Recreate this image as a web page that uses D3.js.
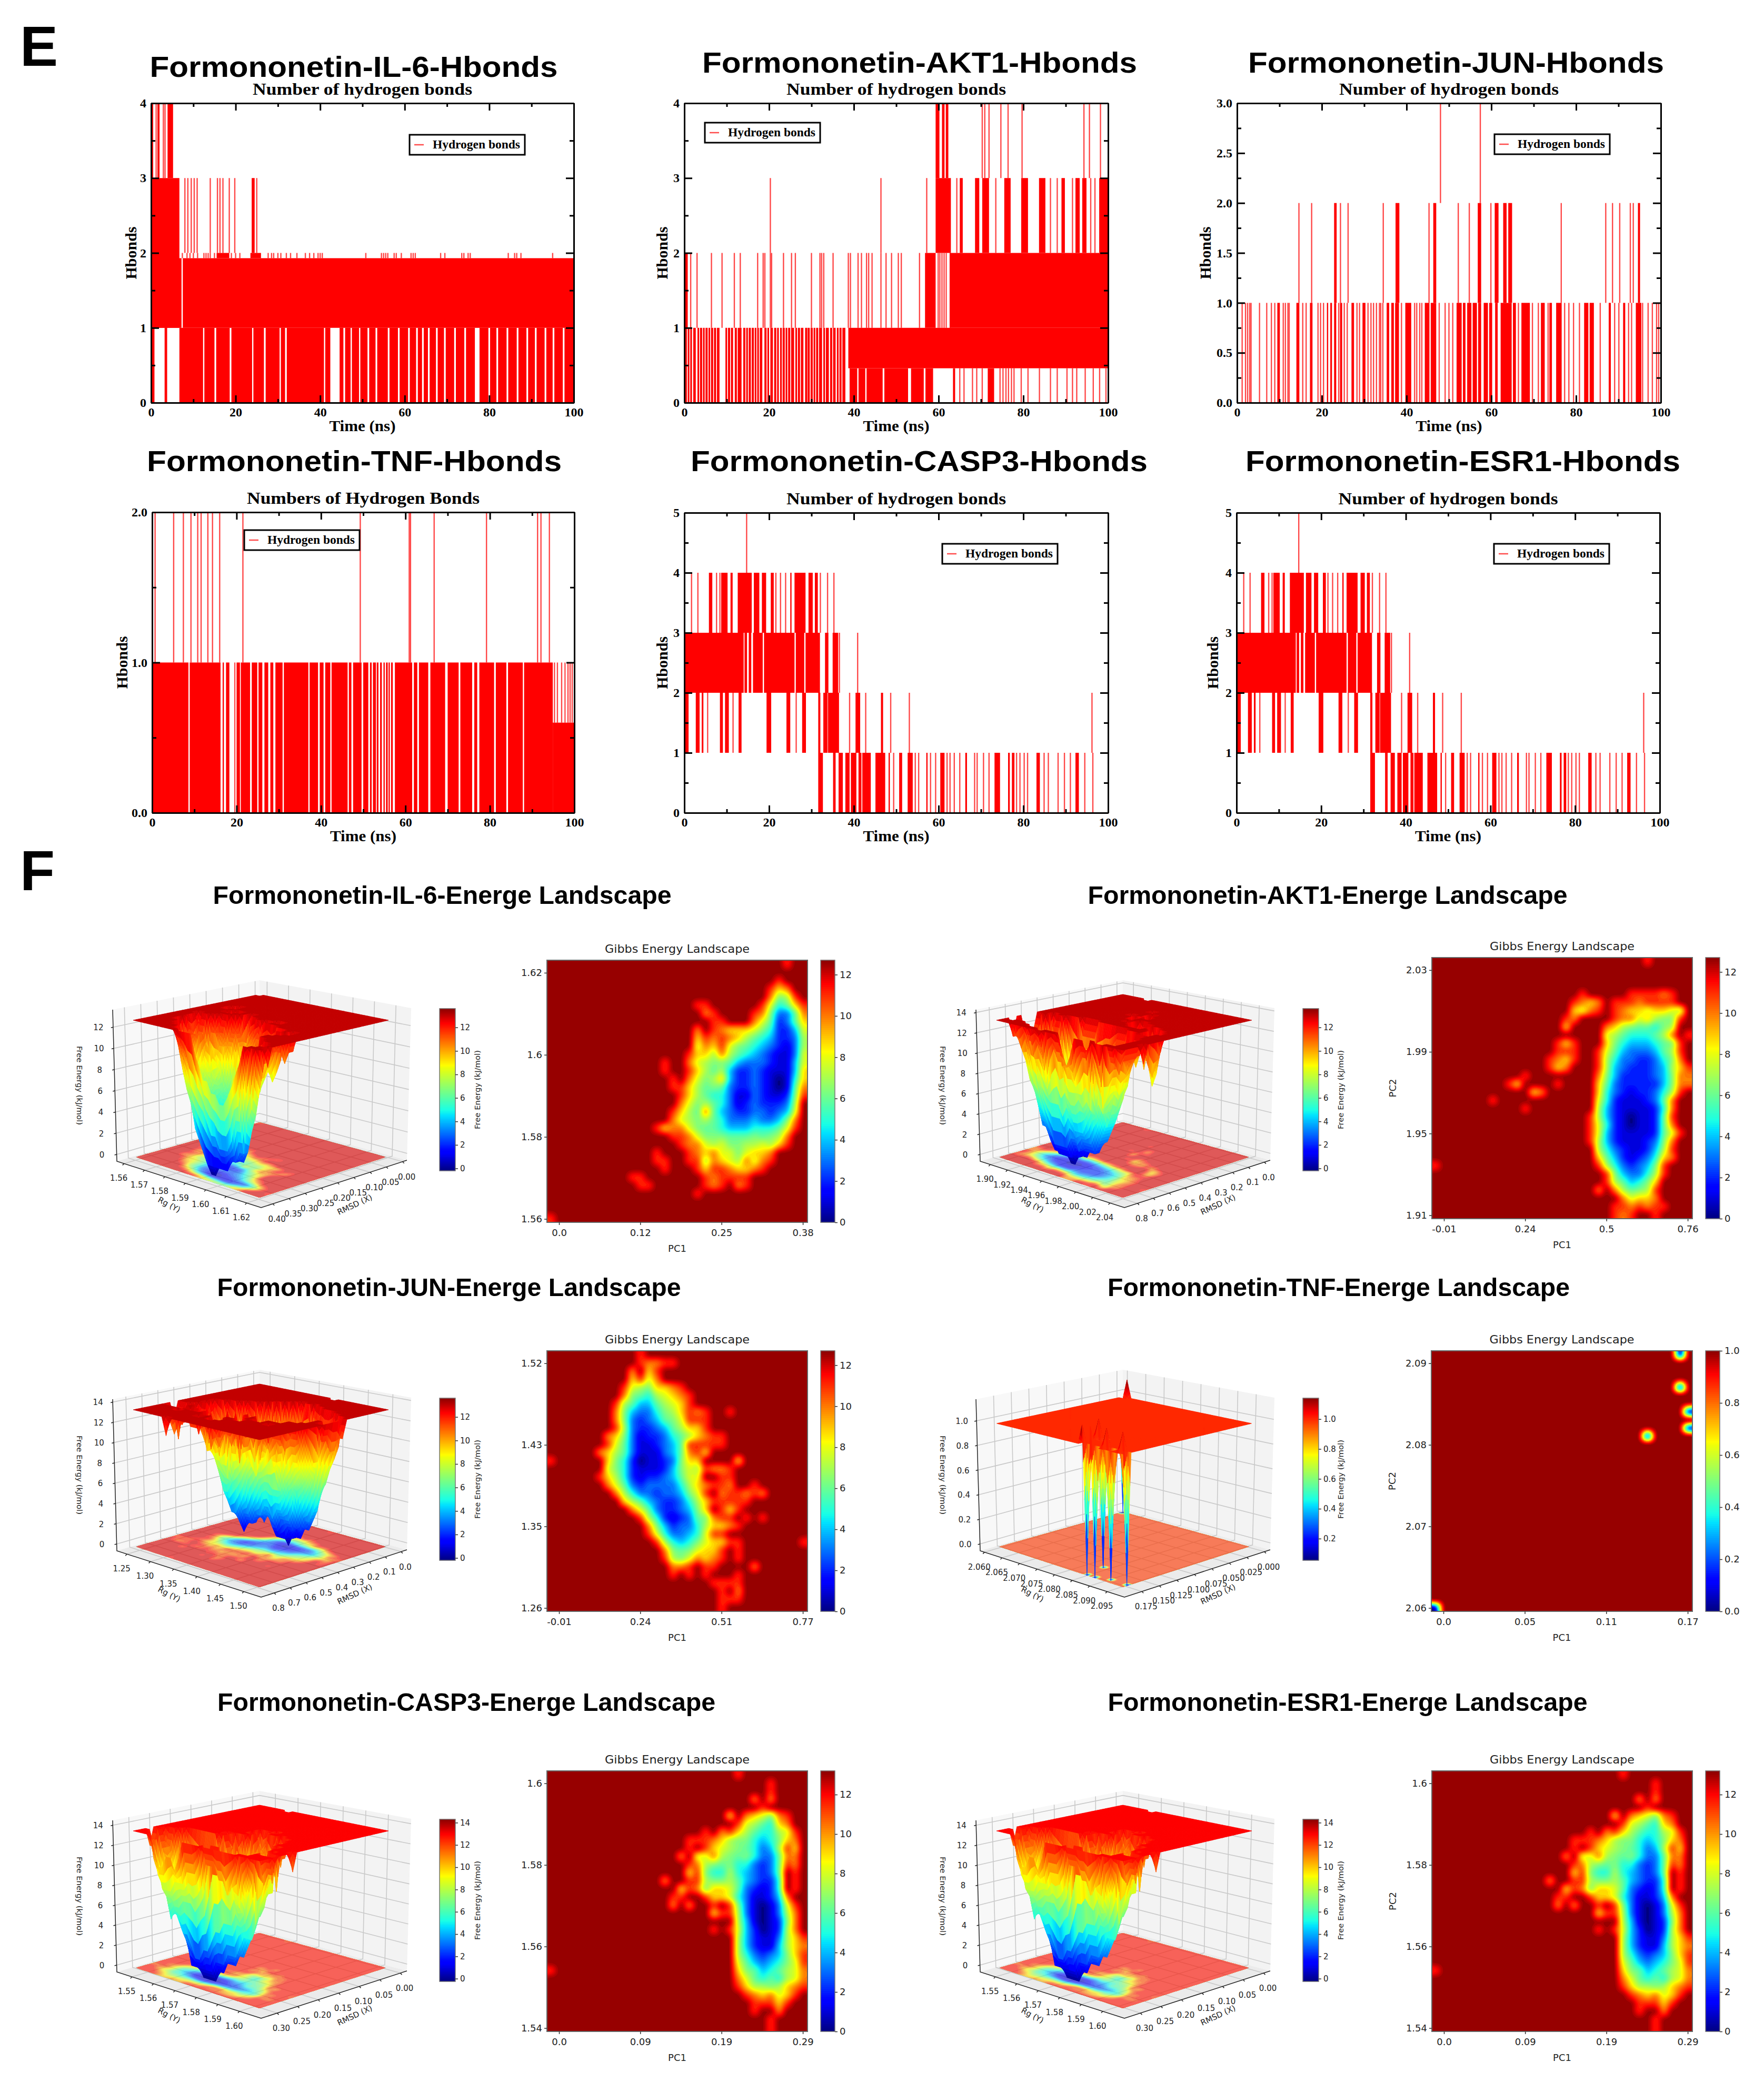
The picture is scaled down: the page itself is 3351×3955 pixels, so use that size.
<!DOCTYPE html>
<html><head><meta charset="utf-8">
<script src="https://cdn.jsdelivr.net/npm/d3@7"></script>
<style>html,body{margin:0;padding:0;background:#fff}svg{display:block}</style>
</head><body><svg id="fig" width="3351" height="3955" viewBox="0 0 3351 3955"></svg>
<script>
// ---------- hydrogen bond traces: [low, high, [time | [timeFrom,timeTo] ...]] in ns / count
const il6Runs=[
[0,1,[[0,.8],[3.2,3.8],[6.7,12.3],[12.6,15],[15.4,18.6],[19,23.9],[24.2,26.7],[27.1,30.4],[30.7,31.7],[32.1,40.9],[41.2,42.4],[44.6,45.5],[45.9,47.2],[47.5,49.2],[49.5,51.2],[51.6,53.1],[53.5,56],[56.4,58.4],[58.8,60.8],[61.2,62.7],[63.1,64.1],[64.5,65.5],[65.9,67.4],[67.8,69.3],[69.7,71.7],[72.1,74.1],[74.5,76.6],[77.7,79.8],[80.2,81.7],[82.1,84.1],[84.5,86.5],[86.9,88.8],[89.2,90.8],[91.2,93.1],[93.5,95],[95.4,97.4],[97.8,100]]],
[1,1.93,[[0,7.2],[7.5,100]]],
[1,3,[[0,6.7]]],
[3,4,[[.2,.5],1.2,[1.5,2],2.9,3.3,[3.9,5.2]]],
[2,3,[8,8.7,9.5,10.2,10.9,14,15.7,16.3,17,18.5,19.8,[23.8,24.5],25]],
[1.93,2,[7.4,8.5,9.2,10,11,12.5,13,13.5,14,15,[15.5,18.5],19,20,21,[23.5,26],27.7,28.5,29,30,30.7,32,33,34.5,36.5,37.5,38.5,39.5,40,40.5,50.8,54.5,55,55.5,56,57.5,58,59.2,61.5,62,62.5,68.5,69.5,73.5,74,75,75.5,84.5,86,86.5,87.5,95]]];
const akt1Runs=[
[0,1,[[.1,.6],[.8,1.2],[1.4,1.8],[2.1,2.7],[3.1,3.5],[3.7,4.2],[4.4,4.8],[5,5.5],[5.7,6.1],[6.3,6.8],[7,7.5],[7.7,8.3],[9.7,10.1],[10.3,10.8],[11,11.5],[11.9,12.4],[12.6,13.5],[13.9,14.4],[14.6,15],[15.2,15.7],[15.9,16.4],[16.6,17],[17.2,17.6],[17.8,18.4],[18.9,19.4],[19.6,20],[20.3,20.9],[21.2,21.7],[21.9,22.3],[22.6,23],[23.2,23.7],[23.9,24.3],[24.5,25],[25.2,25.9],[26.2,26.6],[26.8,27.3],[27.5,28.1],[28.5,29],[29.1,29.6],[29.8,30.3],[30.5,30.9],[31.1,31.6],[31.8,32.5],[32.8,33.2],[33.4,34.1],[34.4,34.9],[35.1,35.7],[36,36.4],[36.6,37.1],[37.3,38]]],
[.46,1,[[38.7,100]]],
[0,.46,[[39,40.8],[41.1,42.7],[43,46.8],[47.2,52.8],[53.5,56.5],[56.9,58.7],[63.4,63.9],65,66,68,69,70.3,[71.6,73.1],74.5,75.2,75.9,76.5,77.2,77.8,79.5,81.1,83.8,86.4,88,90.3,91.6,92.6,94.6,96.5,98,99.5]],
[1,2,[[0,.8],1.5,3,6.4,8.9,11.8,13.2,17.3,18.6,19,20.3,20.6,23.4,25.3,26.2,30,32,32.4,32.9,35.1,38.7,39.2,41,41.8,43,43.5,44.3,46.4,47.6,48.9,50.5,51.2,55.5,[56.8,59.3],59.9,60.3,60.8,61.3,61.8,[62.6,100]]],
[2,3,[20.3,46.4,57.2,[59.3,62.9],64.3,[65,65.7],[68.6,69.6],[70.3,71.9],73.5,[75.5,77],[79.5,81.1],[83.7,85.2],86.4,88,[89,89.8],91.6,[92.3,93.3],[93.9,94.9],95.9,96.9,[97.9,100]]],
[3,4,[[59.3,60.2],[60.8,61.4],[61.7,62.3],70.3,70.9,71.9,74.7,76.4,79.7,94.3,95.6,98.2]]];
const junRuns=[
[0,1,[1.2,2,2.5,3,3.3,5.3,7,8.1,8.9,[9.5,10.1],10.9,11.4,12,12.3,[14,14.7],15.5,16.3,[17.2,17.8],19.1,19.7,20.4,[21.2,21.5],[22,22.4],[22.9,23.4],24,[24.3,24.8],25.3,26,[27,27.6],28.3,28.9,[29.6,30.3],30.9,31.6,32.2,32.9,33.6,33.9,34.4,[35.3,35.9],[36.4,37],[37.3,38.2],38.8,[39.7,41.1],41.9,42.4,43.1,43.6,[44.3,45.4],[45.7,47],47.7,49.1,50,50.9,[51.8,53],[53.3,53.9],[54.3,55.3],[55.6,56.6],[56.9,57.6],[58.2,59.2],[59.5,60.2],[60.9,61.5],[62.2,64.8],[65.1,65.8],66.4,[67.1,69.1],69.7,71.1,[71.7,72.6],73.4,[73.7,74.3],[75.3,76.6],77.3,78.3,79.4,80.8,[81.9,82.9],[83.2,84.2],85.7,[87.7,88.2],89.1,90.1,[91.1,91.6],92.4,93.1,[94.1,95.4],95.7,97,98,99,99.5]],
[1,2,[14.6,17.6,[22.9,23.5],24.4,26.2,34.5,[37.4,38.3],45.3,[46.3,47],52.2,54.8,[56.8,57.6],59.9,[60.8,61.7],[62.8,63.6],[64,64.9],76.5,87,88.6,90.3,92.8,93.5,[94.6,95.1]]],
[2,3,[48,57.4]]];
const tnfRuns=[
[0,1,[[.2,8.6],[8.9,16.2],[16.7,17],[17.5,18.3],[19.5,19.7],[20,20.8],[21,23.2],[23.6,24.9],[25.2,26.1],[26.6,27.5],[28,28.7],[29.2,30.9],[31.2,37],[37.3,39.3],[39.7,40.6],[41,42.2],[42.5,46.3],[46.6,47.2],[47.6,49.6],[50,51.2],[51.6,52],[52.3,53],[53.2,53.6],[54,54.4],[54.8,55.1],[55.4,55.8],[56,56.3],[56.6,57],[57.5,61.6],[62,62.8],[63.2,65.4],[65.9,69.4],[70,72.6],[73,75.8],[76.3,77],[77.5,81],[81.4,83.9],[84.3,87.8],[88.1,94.9]]],
[0,.6,[[94.9,100]]],
[.6,1,[95.3,96,97,[97.7,97.9],98.5,99,99.5]],
[1,2,[.7,5.1,7.4,9.2,10.8,11.6,13.2,14.3,16,21.5,49.3,60.9,61.2,66.8,79.2,91.3,92.1,94.1]]];
const casp3Runs=[
[4,5,[14.7]],
[3,4,[1.7,3.2,[5.8,6.6],7.6,8.4,[8.7,10.2],[10.9,11.4],[12.6,15.9],[16.4,17.7],[18.3,19.3],[20.4,21.1],21.6,22.7,23.9,[25,25.3],[26,28.6],[29.3,30.3],[30.8,31.5],32.1,33.8,35.3]],
[2,3,[[.2,14],[14.2,14.8],[15.2,15.8],[16.2,18.5],[18.8,26],[26.3,28.3],[28.6,32],[33.2,34],[35,36.3],36.6,40.9]],
[1,2,[[.2,1],[2.7,3.6],[4.1,4.5],5.5,[8.4,9.1],[9.6,10.5],11.5,[12.8,13.5],[19.4,20.5],[24.1,25],26.4,[27.8,28.7],[31.6,32.1],[32.8,33.8],[33.9,36.5],39,[40.4,41.5],42.8,[46.4,46.9],48.7,53.1,96.2]],
[0,1,[[31.6,32.7],[35.1,35.7],[36.4,37.4],[38,39],[39.3,40.6],[41.1,41.8],[42,44],[45.1,47.4],[48.2,48.5],49.4,[50.7,51.4],[52.7,53.9],54.5,55.3,[57.1,57.4],58.1,59.3,[60.4,61.4],62,62.7,63.7,65,[66.3,66.7],68.5,69.1,70.6,71.9,[73.2,74.5],[76.4,76.8],[77.3,77.9],78.4,79.2,80.2,81,[83.1,83.9],84.9,85.9,88.2,89.7,91.1,[92.3,93.1],94.5,96.4]]];
const esr1Runs=casp3Runs;

const hbTitles=["Formononetin-IL-6-Hbonds","Formononetin-AKT1-Hbonds","Formononetin-JUN-Hbonds","Formononetin-TNF-Hbonds","Formononetin-CASP3-Hbonds","Formononetin-ESR1-Hbonds"];
const hbSubtitles=["Number of hydrogen bonds","Number of hydrogen bonds","Number of hydrogen bonds","Numbers of Hydrogen Bonds","Number of hydrogen bonds","Number of hydrogen bonds"];
const hbYMax=[4,4,3,2,5,5];
const hbYMajorStep=[1,1,.5,1,1,1];
const timeMajor=[0,20,40,60,80,100];
const timeMinor=[10,30,50,70,90];

// ---------- free energy grids (32x32, top row = highest PC2), each hex digit = energy level
const il6Grid=[
"dddd dddd dddd dddd dddd dddd dddd dcdd","",
"dddd dddd dddd dddd dddd dddd dddd cddd",
"dddd dddd dddd dddd dddd dddd dddc abdd",
"dddd dddd dddd dddd dddd dddd dddb 78cd",
"dddd dddd dddd dddd ddcc dddd ddc9 56ac",
"dddd dddd dddd dddd dddb cddd dcb7 336b",
"dddd dddd dddd dddd dddd ccdd db96 236a",
"dddd dddd dddd dddd ddbd cbaa a975 2249",
"dddd dddd dddd dddd ddac bcba 8654 2238",
"dddd dddd dddd dddd dd9b ac97 6543 2138",
"dddd dddd dddd dddd dcaa 8b86 5432 1139",
"dddd dddd dddd ddcd db98 7764 3332 1149",
"dddd dddd dddd ddcd dca8 6842 2321 114a",
"dddd dddd dddd dddc db97 8a42 2321 015a",
"dddd dddd dddd dddc ca86 7632 2321 016b",
"dddd dddd dddd dddd ca86 5531 1321 127c",
"dddd dddd dddd dddd b978 6531 2322 238d",
"dddd dddd dddd dddc a86b 6432 2332 349d",
"dddd dddd dddd dddb 9878 6533 3433 47bd",
"dddd dddd dddd dcab b976 6544 4555 69cd",
"dddd dddd dddd dddc cb97 7766 6767 8bdd",
"dddd dddd dddd dddd cbb9 8977 8898 acdd",
"dddd dddd dddd dcdd dcba b997 9aab dddd",
"dddd dddd dddd dccd dcc8 ba98 b9bc dddd",
"dddd dddd dddd ddcd ddca ccba abcd dddd",
"dddd dddd ddcc dddd dddc bccc cddd dddd",
"dddd dddd dddc cddd dddc bcdb cddd dddd",
"dddd dddd dddd dddd ddcd dddd dddd dddd","","",
"cddd"];
const akt1Grid=[
"dddd dddd dddd dddd dddd dddd ddcd dddd","","","",
"dddd dddd dddd dddd ddcd dddd cccc bcdd",
"dddd dddd dddd dddd dcba bdcc cbcc ccdd",
"dddd dddd dddd dddd da9b cdcb aa9a a98d",
"dddd dddd dddd dddd cbdd ddcb b9a8 77cd",
"dddd dddd dddd dddd addd dba8 7665 78dd",
"dddd dddd dddd dddd dddd d986 5556 8bdc",
"dddd dddd dddd dddc acdd da75 4445 67cd",
"dddd dddd dddd dddc ccdd c964 3334 68cd",
"dddd dddd dddd ddcb acdd c853 3223 57bd",
"dddd dddd dddd ddca bddd c843 2223 48ac",
"dddd dddd dddc dddd dddd b742 2223 47bb",
"dddd dddd dcad dddc dddd a632 2222 47bb",
"dddd dddd dddd abdd dddd a532 1223 58cd",
"dddd dddc dddd dddd dddd 9521 1123 6bdd",
"dddd dddd dddc dddd dddd 8421 1112 5bdd",
"dddd dddd dddd dddd dddc 8421 0112 6cdd",
"dddd dddd dddd dddd dddc 9521 0112 6bdd",
"dddd dddd dddd dddd dddc 9421 1112 69cd",
"dddd dddd dddd dddd dddc 8421 1123 7bdd",
"dddd dddd dddd dddd dddd 8532 1124 8cdd",
"dddd dddd dddd dddd dddd a642 1235 abdd",
"cddd dddd dddd dddd dddd c853 2347 cddd",
"dddd dddd dddd dddd dddd dc74 3358 cddd",
"dddd dddd dddd dddd dddd dc86 457a dddd",
"dddd dddd dddd dddd dddd bdb8 678c dddd",
"dddd dddd dddd dddd dddd dddb 9aab dddd",
"dddd dddd dddd dddd dddd ddcc bcbc cddd",
"dddd dddd dddd dddd dddd ddcb cddc dddd"];
const junGrid=[
"dddd dddd dddc dddd",
"dddd dddd dddc bbcc",
"dddd dddd ddbd acdd",
"dddd dddd ddac 9bdd",
"dddd dddd dc98 7aab cddd",
"dddd dddd db76 589a bcdd",
"dddd dddd c864 4689 acdd",
"dddd dddd b743 3578 acbc ddcd",
"dddd dddd b732 3467 9ccc",
"dddd dddd c832 2346 8aac",
"dddd dddb a731 2235 68ab ccdd",
"dddd dddc 9631 1234 6ccc ccdd",
"dddd ddba 8631 1134 6bca",
"cddd ddda 7520 1123 7aad ddda",
"dddd ddd9 7521 1124 798c bbcd",
"dddd ddca 8521 2234 699d dccd",
"dddd dddb 9632 3333 58ab ccbd dcdd",
"dddd dddd b853 3233 479c dbcc bcbd",
"dddd dddd da86 4322 358a cccc cddd",
"dddd dddd ddb9 6322 347a dcac",
"dddd dddd dddc 8521 2367 bccd cdcd",
"dddd dddd dddd b742 3358 aabc",
"dddd dddd dddd c953 3459 ccdd",
"dddd dddd dddd dc85 4579 aacc dddd dddc",
"dddd dddd dddd ddb7 679a acdc",
"dddd dddd dddd ddc8 79ba bcdc",
"dddd dddd dddd dddb bcdc cddd dbdd",
"dddd dddd dddd dddc dcdc dddc",
"dddd dddd dddd dddd dddd cccc",
"dddd dddd dddd dddd dddd dcdb",
"dddd dddd dddd dddd dddd dccc",
"dddd dddd dddd dddd dddd dcdd"];
const tnfGrid=[
"dddd dddd dddd dddd dddd dddd dddd dd0d",
"dddd dddd dddd dddd dddd dddd dddd ddfd","","",
"dddd dddd dddd dddd dddd dddd dddd dd0d",
"dddd dddd dddd dddd dddd dddd dddd ddfd","",
"dddd dddd dddd dddd dddd dddd dddd ddd0",
"dddd dddd dddd dddd dddd dddd dddd dddf",
"dddd dddd dddd dddd dddd dddd dddd ddd0",
"dddd dddd dddd dddd dddd dddd dd0d dddf",
"dddd dddd dddd dddd dddd dddd ddfd","","","","","","","","","","","","","","","","","","",
"fddd",
"0ddd"];
const casp3Grid=[
"dddd dddd dddd dddd dddd dddc",
"dddd dddd dddd dddd dddd dddd dddc",
"dddd dddd dddd dddd dddd dddd dddc",
"dddd dddd dddd dddd dddd dddd dbdb",
"dddd dddd dddd dddd dddd dddd ddcd",
"dddd dddd dddd dddd dddd ddad ba97 bcdd",
"dddd dddd dddd dddd dddd dddc 9865 abdd",
"dddd dddd dddd dddd dddc dbca 8655 89cd",
"dddd dddd dddd dddd dccc ba87 7545 7abd",
"dddd dddd dddd dddd dcdc a987 6534 8cad",
"dddd dddd dddd dddd bd99 b876 7533 6bbd",
"dddd dddd dddd dddd dcb8 7675 5323 6cbd",
"dddd dddd dddd dddd dac7 5585 4323 6dcd",
"dddd dddd dddd ddbd dcc8 7786 4322 5dcd",
"dddd dddd dddd dddd acb7 aa96 3212 5dcd",
"dddd dddd dddd dddc cddc aa95 3112 4bdd",
"dddd dddd dddd dddb dbdd cdc7 3101 39cd",
"dddd dddd dddd dddd dddd acc8 3101 38bd",
"dddd dddd dddd dddd dddd ddd8 4101 27bd",
"dddd dddd dddd dddd dddd cdc9 4201 28bd",
"dddd dddd dddd dddd dddd ddd8 4211 38ac",
"dddd dddd dddd dddd dddd ddd8 4211 48ab",
"dddd dddd dddd dddd dddd ddd8 5323 47ac",
"dddd dddd dddd dddd dddd ddd9 6434 579c",
"cddd dddd dddd dddd dddd ddda 7645 689b",
"dddd dddd dddd dddd dddd dddb 9656 589b",
"dddd dddd dddd dddd dddd dddc a887 8abc",
"dddd dddd dddd dddd dddd dddd cbab 9acd",
"dddd dddd dddd dddd dddd dddd dccc acdd",
"dddd dddd dddd dddd dddd dddd dcdd bddd",
"dddd dddd dddd dddd dddd dddd dddc",
"dddd dddd dddd dddd dddd dddd dddc"];
const esr1Grid=casp3Grid;

// energy read for each grid digit 0..f
const digitEnergy=[0,1,2,3,4,5,6,6.5,7.2,8,9,10.2,11.3,13,14,15];

const energyNames=["IL-6","AKT1","JUN","TNF","CASP3","ESR1"];
const pc1Labels=[["0.0","0.12","0.25","0.38"],["-0.01","0.24","0.5","0.76"],["-0.01","0.24","0.51","0.77"],["0.0","0.05","0.11","0.17"],["0.0","0.09","0.19","0.29"],["0.0","0.09","0.19","0.29"]];
const pc2Labels=[["1.56","1.58","1.6","1.62"],["1.91","1.95","1.99","2.03"],["1.26","1.35","1.43","1.52"],["2.06","2.07","2.08","2.09"],["1.54","1.56","1.58","1.6"],["1.54","1.56","1.58","1.6"]];
const heatCbarMax=[12.7,12.7,12.7,1,13.2,13.2];
const heatCbarTicks=[[0,2,4,6,8,10,12],[0,2,4,6,8,10,12],[0,2,4,6,8,10,12],[0,.2,.4,.6,.8,1],[0,2,4,6,8,10,12],[0,2,4,6,8,10,12]];
const rgLabels=[["1.56","1.57","1.58","1.59","1.60","1.61","1.62"],["1.90","1.92","1.94","1.96","1.98","2.00","2.02","2.04"],["1.25","1.30","1.35","1.40","1.45","1.50"],["2.060","2.065","2.070","2.075","2.080","2.085","2.090","2.095"],["1.55","1.56","1.57","1.58","1.59","1.60"],["1.55","1.56","1.57","1.58","1.59","1.60"]];
const rmsdLabels=[["0.40","0.35","0.30","0.25","0.20","0.15","0.10","0.05","0.00"],["0.8","0.7","0.6","0.5","0.4","0.3","0.2","0.1","0.0"],["0.8","0.7","0.6","0.5","0.4","0.3","0.2","0.1","0.0"],["0.175","0.150","0.125","0.100","0.075","0.050","0.025","0.000"],["0.30","0.25","0.20","0.15","0.10","0.05","0.00"],["0.30","0.25","0.20","0.15","0.10","0.05","0.00"]];
const zTicks=[[0,2,4,6,8,10,12],[0,2,4,6,8,10,12,14],[0,2,4,6,8,10,12,14],[0,.2,.4,.6,.8,1],[0,2,4,6,8,10,12,14],[0,2,4,6,8,10,12,14]];
const zPlateau=[12.9,13.5,13.5,1,13.7,13.7];
const cbar3dDomain=[[-.2,13.6],[-.2,13.6],[-.2,13.6],[.055,1.14],[-.25,14.3],[-.25,14.3]];
const cbar3dTicks=[[0,2,4,6,8,10,12],[0,2,4,6,8,10,12],[0,2,4,6,8,10,12],[.2,.4,.6,.8,1],[0,2,4,6,8,10,12,14],[0,2,4,6,8,10,12,14]];

// ---------- layout
const svg=d3.select("#fig");
const hbBox=[[287,1090,196,765],[1300,2105,196,765],[2350,3155,196,765],[289,1091,973,1544],[1300,2105,974,1544],[2349,3153,974,1544]];
const hbTitleBox=[[672,775,146],[1747,826,138],[2766,790,138],[673,788,895],[1746,868,895],[2779,826,895]];
const hbLegend=[[778,256],[1339,233],[2839,255],[464,1007],[1790,1033],[2838,1033]];
const hbYLabelX=[249,1258,2290,232,1258,2304];
const heatBox=[[1039,1534,1824,2322],[2720,3215,1819,2315],[1039,1534,2566,3061],[2719,3215,2566,3061],[1039,1534,3364,3859],[2720,3215,3364,3859]];
const heatXFrac=[.0465,.358,.67,.982], heatYFrac=[.013,.326,.639,.952];
const energyTitle=[[840,871,1717],[2522,911,1717],[853,881,2462],[2543,878,2462],[886,946,3250],[2560,911,3250]];
const hasPC2=[false,true,false,true,false,true];
const panelOffset=[[0,0],[1640,0],[0,740],[1640,740],[0,1540],[1640,1540]];
const rgFrac=[[.05,.9],[.07,.9],[.07,.88],[.03,.88],[.105,.85],[.105,.85]];
const rmsdFrac=[[.08,.97],[.09,.96],[.09,.96],[.12,.96],[.11,.955],[.11,.955]];
const plateauScale=[1,1,1,.9,1,1];

const SERIF="'Liberation Serif','Times New Roman',serif", SANS="'Liberation Sans',Arial,sans-serif", DJ="'DejaVu Sans',sans-serif";
const jet=d3.scaleLinear()
 .domain([0,.11,.125,.34,.375,.64,.65,.89,.91,1])
 .range(["#00007f","#0000ff","#0000ff","#00e0ff","#19ffe6","#f0ff06","#ffff00","#ff1500","#ff0000","#8b0000"])
 .clamp(true);
const levelOf=ch=>digitEnergy[parseInt(ch,16)];
function parseGrid(rows){
  const g=[];for(let r=0;r<32;r++){const s=(rows[r]||"").replace(/ /g,"").padEnd(32,"d");g.push(Array.from(s.slice(0,32),levelOf));}
  return g;
}
function sampleGrid(g,gx,gy){
  const x=Math.max(0,Math.min(31,gx)),y=Math.max(0,Math.min(31,gy));
  const i=Math.min(30,Math.floor(x)),j=Math.min(30,Math.floor(y)),a=x-i,b=y-j;
  return (g[j][i]*(1-a)+g[j][i+1]*a)*(1-b)+(g[j+1][i]*(1-a)+g[j+1][i+1]*a)*b;
}
function displayField(g,N,blurPasses){
  let f=new Float64Array(N*N);
  for(let y=0;y<N;y++)for(let x=0;x<N;x++){
    f[y*N+x]=Math.min(13,sampleGrid(g,(x+.5)/N*32-.5,(y+.5)/N*32-.5));
  }
  for(let p=0;p<blurPasses;p++){
    const t=new Float64Array(N*N);
    for(let y=0;y<N;y++)for(let x=0;x<N;x++){
      let s=0,c=0;
      for(let dy=-1;dy<=1;dy++)for(let dx=-1;dx<=1;dx++){
        const X=x+dx,Y=y+dy;if(X<0||Y<0||X>=N||Y>=N)continue;s+=f[Y*N+X];c++;}
      t[y*N+x]=s/c;
    }
    f=t;
  }
  return f;
}

// ---------- panel letters
svg.append("text").attr("x",38).attr("y",125).attr("font-family",SANS).attr("font-weight",700).attr("font-size",108).text("E");
svg.append("text").attr("x",38).attr("y",1691).attr("font-family",SANS).attr("font-weight",700).attr("font-size",108).text("F");

// ---------- hydrogen bond panels
function drawHbond(idx,runs){
  const [x0,x1,y0,y1]=hbBox[idx];
  const g=svg.append("g");
  const x=d3.scaleLinear().domain([0,100]).range([x0,x1]);
  const y=d3.scaleLinear().domain([0,hbYMax[idx]]).range([y1,y0]);
  const [tc,tw,tb]=hbTitleBox[idx];
  svg.append("text").attr("x",tc).attr("y",tb).attr("text-anchor","middle").attr("font-family",SANS).attr("font-weight",700).attr("font-size",56)
    .attr("textLength",tw).attr("lengthAdjust","spacingAndGlyphs").text(hbTitles[idx]);
  const xc=(x0+x1)/2;
  g.append("text").attr("x",xc).attr("y",y0-16).attr("text-anchor","middle").attr("font-family",SERIF).attr("font-weight",700).attr("font-size",32)
    .attr("textLength",idx===3?442:417).attr("lengthAdjust","spacingAndGlyphs").text(hbSubtitles[idx]);
  const marks=g.append("g");
  runs.forEach(([lo,hi,items])=>{
    marks.selectAll(null).data(items.filter(d=>Array.isArray(d))).join("rect")
      .attr("x",d=>x(d[0])).attr("width",d=>Math.max(1,x(d[1])-x(d[0]))).attr("y",y(hi)).attr("height",y(lo)-y(hi)).attr("fill","#ff0000");
    marks.selectAll(null).data(items.filter(d=>!Array.isArray(d))).join("line")
      .attr("x1",d=>x(d)).attr("x2",d=>x(d)).attr("y1",y(lo)).attr("y2",y(hi)).attr("stroke","#ff0000").attr("stroke-opacity",.72).attr("stroke-width",2.4);
  });
  const step=hbYMajorStep[idx],yMajor=d3.range(0,hbYMax[idx]+1e-6,step),yMinor=d3.range(step/2,hbYMax[idx],step);
  const fmtY=step<1||idx===3?d3.format(".1f"):d3.format("d");
  const style=a=>{a.selectAll("path").attr("stroke","#000").attr("stroke-width",3);a.selectAll("line").attr("stroke","#000").attr("stroke-width",3);
    a.selectAll("text").attr("font-family",SERIF).attr("font-weight",700).attr("font-size",24).attr("fill","#000");};
  const ax=(fn,s,vals,size,fmt,tr)=>{const A=fn(s).tickValues(vals).tickSizeInner(-size).tickSizeOuter(0).tickPadding(9);A.tickFormat(fmt||"");
    const n=g.append("g").attr("transform",tr).call(A);style(n);n.selectAll("path").attr("fill","none");return n;};
  ax(d3.axisBottom,x,timeMajor,14,d3.format("d"),`translate(0,${y1})`);
  ax(d3.axisBottom,x,timeMinor,7,null,`translate(0,${y1})`);
  ax(d3.axisTop,x,timeMajor,14,null,`translate(0,${y0})`);
  ax(d3.axisTop,x,timeMinor,7,null,`translate(0,${y0})`);
  ax(d3.axisLeft,y,yMajor,15,fmtY,`translate(${x0},0)`);
  ax(d3.axisLeft,y,yMinor,8,null,`translate(${x0},0)`);
  ax(d3.axisRight,y,yMajor,15,null,`translate(${x1},0)`);
  ax(d3.axisRight,y,yMinor,8,null,`translate(${x1},0)`);
  g.append("text").attr("x",xc).attr("y",y1+54).attr("text-anchor","middle").attr("font-family",SERIF).attr("font-weight",700).attr("font-size",29)
    .attr("textLength",126).attr("lengthAdjust","spacingAndGlyphs").text("Time (ns)");
  const ylx=hbYLabelX[idx],yly=(y0+y1)/2;
  g.append("text").attr("transform",`translate(${ylx+10},${yly}) rotate(-90)`).attr("text-anchor","middle").attr("font-family",SERIF).attr("font-weight",700).attr("font-size",30).text("Hbonds");
  const [lx,ly]=hbLegend[idx];
  g.append("rect").attr("x",lx).attr("y",ly).attr("width",219).attr("height",38).attr("fill","#fff").attr("stroke","#000").attr("stroke-width",3);
  g.append("line").attr("x1",lx+9).attr("x2",lx+27).attr("y1",ly+19).attr("y2",ly+19).attr("stroke","#ff0000").attr("stroke-opacity",.7).attr("stroke-width",2.5);
  g.append("text").attr("x",lx+44).attr("y",ly+26).attr("font-family",SERIF).attr("font-weight",700).attr("font-size",23)
    .attr("textLength",166).attr("lengthAdjust","spacingAndGlyphs").text("Hydrogen bonds");
}
[il6Runs,akt1Runs,junRuns,tnfRuns,casp3Runs,esr1Runs].forEach((r,i)=>drawHbond(i,r));

// ---------- energy titles
energyNames.forEach((n,i)=>{
  const [c,w,b]=energyTitle[i];
  svg.append("text").attr("x",c).attr("y",b).attr("text-anchor","middle").attr("font-family",SANS).attr("font-weight",700).attr("font-size",48)
    .attr("textLength",w).attr("lengthAdjust","spacingAndGlyphs").text(`Formononetin-${n}-Energe Landscape`);
});

// ---------- colour bar helper
function colorBar(parent,x0,x1,y0,y1,domain,ticks,colorOf,fontSize,fmt){
  const s=d3.scaleLinear().domain(domain).range([y1,y0]);
  const levels=d3.range(0,128);
  const h=(y1-y0)/128;
  parent.append("g").selectAll("rect").data(levels).join("rect")
    .attr("x",x0).attr("width",x1-x0).attr("y",d=>y1-(d+1)*h-.4).attr("height",h+.8).attr("fill",d=>colorOf((d+.5)/128));
  parent.append("rect").attr("x",x0).attr("y",y0).attr("width",x1-x0).attr("height",y1-y0).attr("fill","none").attr("stroke","#777").attr("stroke-width",1.5);
  const a=parent.append("g").attr("transform",`translate(${x1},0)`).call(d3.axisRight(s).tickValues(ticks).tickSizeInner(5).tickSizeOuter(0).tickPadding(4).tickFormat(fmt));
  a.select("path").remove();
  a.selectAll("line").attr("stroke","#333").attr("stroke-width",1.5);
  a.selectAll("text").attr("font-family",DJ).attr("font-size",fontSize).attr("fill","#222");
}

// ---------- 2D landscape
function drawHeat(i,grid){
  const [x0,x1,y0,y1]=heatBox[i];
  const g=svg.append("g");
  const xs=d3.scaleLinear().domain([0,1]).range([x0,x1]);
  const ys=d3.scaleLinear().domain([0,1]).range([y1,y0]);
  const N=128,f=displayField(grid,N,1);
  g.append("rect").attr("x",x0).attr("y",y0).attr("width",x1-x0).attr("height",y1-y0).attr("fill",jet(0));
  const step=13/56,th=d3.range(step,13,step);
  const cont=d3.contours().size([N,N]).thresholds(th)(f);
  const path=d3.geoPath(d3.geoTransform({point(x,y){this.stream.point(xs(x/N),ys(1-y/N));}}));
  g.append("g").selectAll("path").data(cont).join("path").attr("d",path).attr("fill",d=>jet((d.value+step/2)/13));
  g.append("rect").attr("x",x0).attr("y",y0).attr("width",x1-x0).attr("height",y1-y0).attr("fill","none").attr("stroke","#666").attr("stroke-width",2);
  const ax=g.append("g").attr("transform",`translate(0,${y1})`).call(d3.axisBottom(xs).tickValues(heatXFrac).tickSizeInner(5).tickSizeOuter(0).tickPadding(8).tickFormat((d,k)=>pc1Labels[i][k]));
  const ay=g.append("g").attr("transform",`translate(${x0},0)`).call(d3.axisLeft(ys).tickValues(heatYFrac).tickSizeInner(5).tickSizeOuter(0).tickPadding(4).tickFormat((d,k)=>pc2Labels[i][k]));
  [ax,ay].forEach(a=>{a.select("path").remove();a.selectAll("line").attr("stroke","#333").attr("stroke-width",1.5);
    a.selectAll("text").attr("font-family",DJ).attr("font-size",18).attr("fill","#222");});
  const xc=(x0+x1)/2;
  g.append("text").attr("x",xc).attr("y",y0-14).attr("text-anchor","middle").attr("font-family",DJ).attr("font-size",21)
    .attr("textLength",275).attr("lengthAdjust","spacingAndGlyphs").attr("fill","#222").text("Gibbs Energy Landscape");
  g.append("text").attr("x",xc).attr("y",y1+56).attr("text-anchor","middle").attr("font-family",DJ).attr("font-size",18).attr("fill","#222").text("PC1");
  if(hasPC2[i]) g.append("text").attr("transform",`translate(${x0-68},${(y0+y1)/2}) rotate(-90)`).attr("text-anchor","middle").attr("font-family",DJ).attr("font-size",18).attr("fill","#222").text("PC2");
  const tf=i===3?(d=>d3.format(".1f")(d)):d3.format("d");
  colorBar(g,x1+25,x1+52,y0,y1,[0,heatCbarMax[i]],heatCbarTicks[i],jet,18,tf);
}
[il6Grid,akt1Grid,junGrid,tnfGrid,casp3Grid,esr1Grid].forEach((r,i)=>drawHeat(i,parseGrid(r)));

// ---------- 3D landscape
const mix=(a,b,t)=>[a[0]+(b[0]-a[0])*t,a[1]+(b[1]-a[1])*t];
function draw3D(i,grid){
  const [dx,dy]=panelOffset[i];
  const pt=p=>[p[0]+dx,p[1]+dy];
  // data cube corners
  const fB=pt([493,2132]),fL=pt([258,2198]),fR=pt([733,2198]),fF=pt([493,2275]);
  const s=plateauScale[i];
  const up=(f,t)=>mix(pt(f),pt(t),s);
  const tpB=up([493,2132],[493,1889]),tpL=up([258,2198],[253,1938]),tpR=up([733,2198],[738,1938]),tpF=up([493,2275],[493,1995]);
  const P=(u,v,w)=>{
    const fl=mix(mix(fB,fL,u),mix(fR,fF,u),v),tp=mix(mix(tpB,tpL,u),mix(tpR,tpF,u),v);
    return mix(fl,tp,w);
  };
  // box corners
  const bB=pt([493,2127]),bL=pt([222,2206]),bR=pt([773,2204]),bF=pt([496,2294]),tB=pt([493,1862]),tL=pt([214,1918]),tR=pt([781,1915]);
  const g=svg.append("g");
  const poly=d=>"M"+d.map(p=>p[0].toFixed(1)+","+p[1].toFixed(1)).join("L")+"Z";
  g.append("path").attr("d",poly([bL,bB,tB,tL])).attr("fill","#f8f8f8");
  g.append("path").attr("d",poly([bB,bR,tR,tB])).attr("fill","#f3f3f3");
  g.append("path").attr("d",poly([bL,bB,bR,bF])).attr("fill","#ebebeb");
  const grid3=g.append("g").attr("stroke","#c9c9c9").attr("stroke-width",1.6).attr("fill","none");
  const rgF=d3.scaleLinear().domain([0,rgLabels[i].length-1]).range(rgFrac[i]);
  const rmF=d3.scaleLinear().domain([0,rmsdLabels[i].length-1]).range(rmsdFrac[i]);
  const openPoly=d=>"M"+d.map(p=>p[0].toFixed(1)+","+p[1].toFixed(1)).join("L");
  rgLabels[i].forEach((_,k)=>{const f=rgF(k);
    grid3.append("path").attr("d",openPoly([mix(bL,bF,f),mix(bB,bR,f),mix(tB,tR,f)]));});
  rmsdLabels[i].forEach((_,k)=>{const f=rmF(k);
    grid3.append("path").attr("d",openPoly([mix(bF,bR,f),mix(bL,bB,f),mix(tL,tB,f)]));});
  const zFrac=z=>{const h=(fL[1]-tpL[1])/(bL[1]-tL[1]);return .045+h*z/zPlateau[i];};
  zTicks[i].forEach(z=>{const t=zFrac(z);
    grid3.append("path").attr("d",openPoly([mix(bL,tL,t),mix(bB,tB,t),mix(bR,tR,t)]));});

  // floor contour
  const vmax=cbar3dDomain[i][1],vmin=cbar3dDomain[i][0];
  const colorV=v=>jet((v*(i===3?1/13:1)-vmin)/(vmax-vmin));
  const N=i===3?128:64,field=displayField(grid,N,i===3?0:1);
  const step=13/28,th=d3.range(step,13,step);
  const cont=d3.contours().size([N,N]).thresholds(th)(field);
  const floorPath=d3.geoPath(d3.geoTransform({point(x,y){const q=P(x/N,1-y/N,0);this.stream.point(q[0],q[1]);}}));
  const floorG=g.append("g").attr("opacity",.62);
  floorG.append("path").attr("d",poly([fL,fB,fR,fF])).attr("fill",colorV(0));
  floorG.selectAll(".c").data(cont).join("path").attr("d",floorPath).attr("fill",d=>colorV(d.value+step/2));

  // axis edges
  const edge=g.append("g").attr("stroke","#222").attr("stroke-width",1.5).attr("fill","none");
  edge.append("path").attr("d",openPoly([tL,bL,bF,bR]));
  const labels=g.append("g").attr("font-family",DJ).attr("font-size",15).attr("fill","#222").attr("text-anchor","middle");
  rgLabels[i].forEach((l,k)=>{const q=mix(bL,bF,rgF(k));
    edge.append("path").attr("d",openPoly([q,[q[0]-3,q[1]+3]]));
    labels.append("text").attr("x",q[0]-10).attr("y",q[1]+33).text(l);});
  rmsdLabels[i].forEach((l,k)=>{const q=mix(bF,bR,rmF(k));
    edge.append("path").attr("d",openPoly([q,[q[0]+3,q[1]+3]]));
    labels.append("text").attr("x",q[0]+8).attr("y",q[1]+34).text(l);});
  zTicks[i].forEach(z=>{const q=mix(bL,tL,zFrac(z));
    edge.append("path").attr("d",openPoly([q,[q[0]-4,q[1]+1]]));
    labels.append("text").attr("x",q[0]-28).attr("y",q[1]+6).text(i===3?d3.format(".1f")(z):z);});
  labels.append("text").attr("transform",`translate(${319+dx},${2293+dy}) rotate(28)`).text("Rg (Y)");
  labels.append("text").attr("transform",`translate(${676+dx},${2293+dy}) rotate(-25)`).text("RMSD (X)");
  labels.append("text").attr("transform",`translate(${146+dx},${2062+dy}) rotate(90)`).attr("font-size",14).attr("textLength",150).attr("lengthAdjust","spacingAndGlyphs").text("Free Energy (kJ/mol)");

  // surface, painted from the back corner to the front corner
  const M=i===3?124:93;
  const val=(a,b)=>sampleGrid(grid,a*31/M,b*31/M);
  const quads=[];
  for(let r=0;r<M;r++)for(let c=0;c<M;c++){
    const vs=[val(c,r),val(c+1,r),val(c+1,r+1),val(c,r+1)];
    const mean=(vs[0]+vs[1]+vs[2]+vs[3])/4;
    const pts=[[c,r],[c+1,r],[c+1,r+1],[c,r+1]].map((n,k)=>P(n[0]/M,1-n[1]/M,vs[k]/13));
    quads.push({o:c+(M-r),color:colorV(Math.round(mean*6)/6),d:poly(pts)});
  }
  quads.sort((a,b)=>a.o-b.o);
  const batched=[];
  quads.forEach(q=>{const l=batched[batched.length-1];if(l&&l.color===q.color)l.d+=q.d;else batched.push({color:q.color,d:q.d});});
  g.append("g").selectAll("path").data(batched).join("path").attr("d",d=>d.d).attr("fill",d=>d.color).attr("stroke",d=>d.color).attr("stroke-width",.7).attr("stroke-linejoin","round");

  // colour bar
  const bar=g.append("g");
  const vm=cbar3dDomain[i];
  colorBar(bar,835+dx,865+dx,1916+dy,2224+dy,vm,cbar3dTicks[i],jet,15,i===3?d3.format(".1f"):d3.format("d"));
  bar.append("text").attr("transform",`translate(${912+dx},${2070+dy}) rotate(-90)`).attr("text-anchor","middle").attr("font-family",DJ).attr("font-size",14).attr("fill","#222")
    .attr("textLength",150).attr("lengthAdjust","spacingAndGlyphs").text("Free Energy (kJ/mol)");
}
[il6Grid,akt1Grid,junGrid,tnfGrid,casp3Grid,esr1Grid].forEach((r,i)=>draw3D(i,parseGrid(r)));
</script></body></html>
